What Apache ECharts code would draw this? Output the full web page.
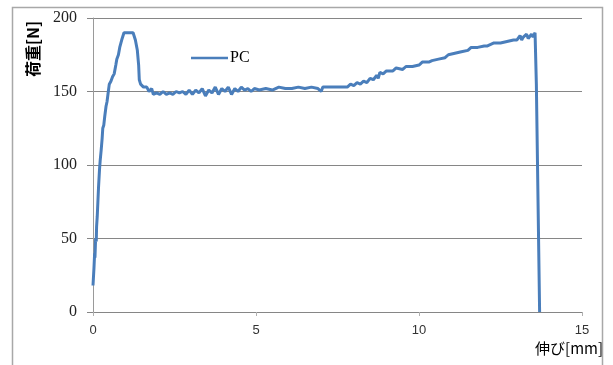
<!DOCTYPE html>
<html><head><meta charset="utf-8">
<script src="https://cdn.jsdelivr.net/npm/echarts@6/dist/echarts.min.js"></script>
<style>html,body{margin:0;padding:0;background:#fff}#c{width:613px;height:365px}</style>
</head><body><div id="c"></div>
<script>
const seriesName = 'PC';
const xTitle = '伸び[mm]';
const yTitle = '荷重[N]';
const elongation = [0,0.03,0.05,0.06,0.08,0.1,0.11,0.13,0.15,0.17,0.2,0.22,0.25,0.28,0.3,0.33,0.36,0.4,0.43,0.47,0.5,0.55,0.6,0.65,0.7,0.73,0.78,0.82,0.88,0.95,1.05,1.15,1.23,1.3,1.36,1.4,1.42,1.46,1.55,1.65,1.72,1.8,1.85,1.95,2.05,2.15,2.25,2.35,2.45,2.55,2.65,2.75,2.85,2.95,3.05,3.15,3.25,3.35,3.45,3.55,3.65,3.75,3.85,3.95,4.05,4.15,4.25,4.35,4.45,4.55,4.65,4.75,4.85,4.95,5.1,5.3,5.5,5.7,5.9,6.1,6.3,6.5,6.7,6.9,7.0,7.05,7.3,7.6,7.8,7.9,8.0,8.1,8.2,8.3,8.4,8.5,8.6,8.7,8.75,8.8,8.9,9.0,9.2,9.3,9.5,9.6,9.8,10.0,10.1,10.3,10.4,10.6,10.8,10.9,11.1,11.3,11.5,11.6,11.8,12.0,12.1,12.3,12.5,12.7,12.9,13.0,13.1,13.15,13.2,13.3,13.35,13.45,13.5,13.56,13.6,13.7];
const load = [18,30,40,37,50,48,58,65,75,85,97,103,110,118,125,127,133,140,143,150,155,157,160,162,168,172,175,180,185,190,190,190,190,185,178,168,158,155,153,153,150,152,148,149,148,150,148,149,148,150,149,150,148,151,148,151,149,152,147,151,149,153,148,152,150,153,148,152,150,153,151,152,150,152,151,152,151,153,152,152,153,152,153,152,150,153,153,153,153,155,154,156,155,157,156,159,158,161,159,163,162,164,164,166,165,167,167,168,170,170,171,172,173,175,176,177,178,180,180,181,181,183,183,184,185,185,188,185,187,189,186,189,187,190,155,0];
const yTicks = [0,50,100,150,200];
const xTicks = [0,5,10,15];

const chart = echarts.init(document.getElementById('c'), null, {renderer:'canvas'});
chart.setOption({
  animation:false,
  backgroundColor:'#fff',
  grid:{left:93,right:31,top:18,bottom:53},
  legend:{left:186,top:45,itemWidth:37,itemHeight:14,itemGap:4,
    data:[{name:seriesName,icon:'path://M0,6 L40,6 L40,8.5 L0,8.5 Z'}],
    textStyle:{fontFamily:'Liberation Serif',fontSize:16,color:'#000',padding:[0,0,0,-3]}},
  xAxis:{type:'value',min:xTicks[0],max:xTicks[xTicks.length-1],interval:5,
    axisLine:{show:false},
    axisTick:{show:true,length:4,lineStyle:{color:'#b0b0b0'}},
    axisLabel:{margin:12,fontFamily:'Liberation Sans',fontSize:13,color:'#333'},
    splitLine:{show:false}},
  yAxis:{type:'value',min:yTicks[0],max:yTicks[yTicks.length-1],interval:50,
    axisLine:{show:true,lineStyle:{color:'#9a9a9a',width:1}},
    axisTick:{show:true,length:6,lineStyle:{color:'#868686'}},
    axisLabel:{margin:16,fontFamily:'Liberation Serif',fontSize:16,color:'#222'},
    splitLine:{show:true,lineStyle:{color:'#868686',width:1}}},
  series:[{name:seriesName,type:'line',symbol:'none',
    data:elongation.map((x,i)=>[x,load[i]]),
    lineStyle:{color:'#4a7ebb',width:3},itemStyle:{color:'#4a7ebb'}}],
  graphic:[
    {type:'rect',shape:{x:12.5,y:7.5,width:590,height:370},style:{fill:'none',stroke:'#a8a8a8',lineWidth:1.5},z:-1},
    {type:'text',x:33,y:49,rotation:Math.PI/2,style:{text:yTitle,font:'bold 16px "Noto Sans CJK JP"',fill:'#000',align:'center',verticalAlign:'middle'}},
    {type:'text',x:603,y:348,style:{text:xTitle,font:'15px "Noto Sans CJK JP"',fill:'#000',align:'right',verticalAlign:'middle'}}
  ]
});
</script></body></html>
